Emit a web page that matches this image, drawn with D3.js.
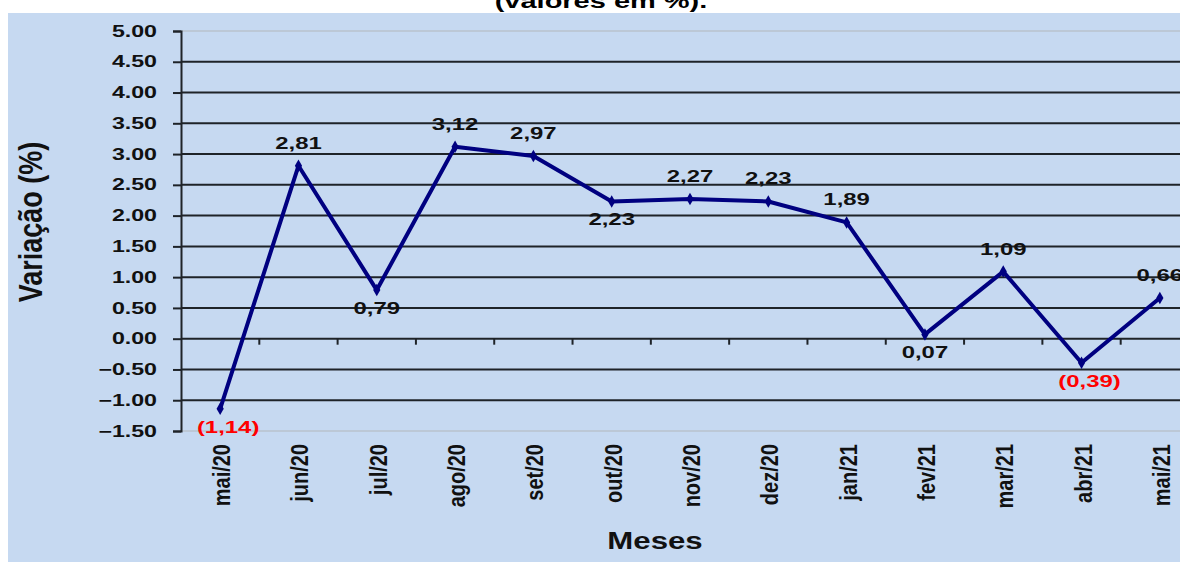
<!DOCTYPE html>
<html>
<head>
<meta charset="utf-8">
<script src="https://cdn.jsdelivr.net/npm/d3@7"></script>
<style>
  body { margin: 0; background: #fff; }
  svg { display: block; font-family: "Liberation Sans", Arial, sans-serif; }
</style>
</head>
<body>
<svg id="chart" width="1180" height="562"></svg>
<script>
var months = ["mai/20", "jun/20", "jul/20", "ago/20", "set/20", "out/20", "nov/20",
              "dez/20", "jan/21", "fev/21", "mar/21", "abr/21", "mai/21"];
var values = [-1.14, 2.81, 0.79, 3.12, 2.97, 2.23, 2.27, 2.23, 1.89, 0.07, 1.09, -0.39, 0.66];
var yTicks = [5.0, 4.5, 4.0, 3.5, 3.0, 2.5, 2.0, 1.5, 1.0, 0.5, 0.0, -0.5, -1.0, -1.5];
// points whose label sits under the marker
var labelBelow = ["mai/20", "jul/20", "out/20", "fev/21", "abr/21"];

// the original picture is stretched sideways, so is the text
var SX = 1.45;

var svg = d3.select("#chart");

// light blue chart area
svg.append("rect")
    .attr("x", 8).attr("y", 13)
    .attr("width", 1172).attr("height", 549)
    .attr("fill", "#c6d9f1");

var x = d3.scaleBand().domain(months).range([181, 1199]);
var y = d3.scaleLinear().domain([-1.5, 5]).range([431, 31]);

// gridlines
svg.append("g").selectAll("line")
    .data(yTicks)
    .enter().append("line")
    .attr("x1", 181).attr("x2", 1199)
    .attr("y1", function(d) { return y(d); })
    .attr("y2", function(d) { return y(d); })
    .attr("stroke", function(d) { return (d == 5 || d == -1.5) ? "#b8c2cc" : "#1e2328"; })
    .attr("stroke-width", function(d) { return (d == 5 || d == -1.5) ? 1.5 : 2; });

// y axis
var yAxis = d3.axisLeft(y)
    .tickValues(yTicks)
    .tickSize(8)
    .tickFormat(d3.format(".2f"));

var gy = svg.append("g")
    .attr("transform", "translate(181,0)")
    .call(yAxis);
gy.select(".domain").attr("stroke", "#1e2328").attr("stroke-width", 2);
gy.selectAll(".tick line").attr("stroke", "#1e2328").attr("stroke-width", 2);
gy.selectAll(".tick text")
    .attr("x", 0)
    .attr("transform", "translate(-24,0) scale(" + SX + ",1)")
    .attr("fill", "#111")
    .style("font-size", "16px")
    .style("font-weight", "bold");

// category tick marks on the zero line
var bounds = months.slice(1).map(function(m) { return x(m); });
svg.append("g").selectAll("line")
    .data(bounds)
    .enter().append("line")
    .attr("x1", function(d) { return d; }).attr("x2", function(d) { return d; })
    .attr("y1", y(0)).attr("y2", y(0) + 6)
    .attr("stroke", "#1e2328").attr("stroke-width", 2);

// month labels, rotated
svg.append("g").selectAll("text")
    .data(months)
    .enter().append("text")
    .attr("transform", function(d) {
        return "translate(" + (x(d) + x.bandwidth() / 2 + 10) + ",444) rotate(-90) scale(1,1.15)";
    })
    .attr("text-anchor", "end")
    .attr("fill", "#111")
    .style("font-size", "20px")
    .style("font-weight", "bold")
    .text(function(d) { return d; });

// series line
var pts = months.map(function(m, i) { return {m: m, v: values[i]}; });
var line = d3.line()
    .x(function(d) { return x(d.m) + x.bandwidth() / 2; })
    .y(function(d) { return y(d.v); });

svg.append("path")
    .datum(pts)
    .attr("d", line)
    .attr("fill", "none")
    .attr("stroke", "#000080")
    .attr("stroke-width", 4)
    .attr("stroke-linejoin", "round");

svg.append("g").selectAll("path")
    .data(pts)
    .enter().append("path")
    .attr("d", d3.symbol().type(d3.symbolDiamond).size(45))
    .attr("transform", function(d) {
        return "translate(" + (x(d.m) + x.bandwidth() / 2) + "," + y(d.v) + ")";
    })
    .attr("fill", "#000080");

// value labels
function fmt(v) {
    var s = Math.abs(v).toFixed(2).replace(".", ",");
    return v < 0 ? "(" + s + ")" : s;
}

svg.append("g").selectAll("text")
    .data(pts)
    .enter().append("text")
    .attr("transform", function(d) {
        var px = x(d.m) + x.bandwidth() / 2 + (d.v < 0 ? 8 : 0);
        var py = labelBelow.indexOf(d.m) >= 0 ? y(d.v) + 24 : y(d.v) - 17;
        return "translate(" + px + "," + py + ") scale(" + SX + ",1)";
    })
    .attr("text-anchor", "middle")
    .attr("fill", function(d) { return d.v < 0 ? "#ff0000" : "#111"; })
    .style("font-size", "16.5px")
    .style("font-weight", "bold")
    .text(function(d) { return fmt(d.v); });

// axis titles
svg.append("text")
    .attr("transform", "translate(42,222) rotate(-90) scale(1,1.2)")
    .attr("text-anchor", "middle")
    .attr("fill", "#111")
    .style("font-size", "27px")
    .style("font-weight", "bold")
    .text("Variação (%)");

svg.append("text")
    .attr("transform", "translate(655,549) scale(1.3,1)")
    .attr("text-anchor", "middle")
    .attr("fill", "#111")
    .style("font-size", "24px")
    .style("font-weight", "bold")
    .text("Meses");

// chart title, cut at the top in the original
svg.append("text")
    .attr("transform", "translate(601,8) scale(" + SX + ",1)")
    .attr("text-anchor", "middle")
    .attr("fill", "#000")
    .style("font-size", "20px")
    .style("font-weight", "bold")
    .text("(valores em %).");
</script>
</body>
</html>
